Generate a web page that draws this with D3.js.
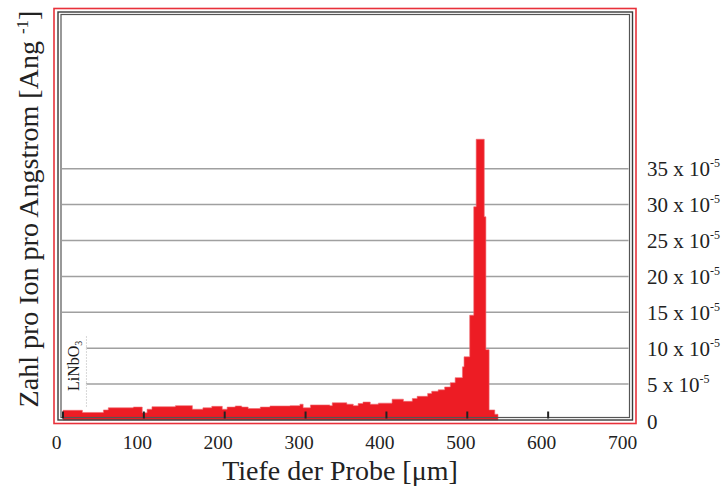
<!DOCTYPE html>
<html>
<head>
<meta charset="utf-8">
<script src="https://cdn.jsdelivr.net/npm/d3@7/dist/d3.min.js"></script>
<style>
  html, body { margin: 0; padding: 0; background: #fff; }
  svg { display: block; font-family: "Liberation Serif", "Times New Roman", serif; }
</style>
</head>
<body>
<svg id="chart" width="723" height="491"></svg>
<script>
// Histogram of implanted ions vs. depth in LiNbO3 (values in units of 1e-5 per Angstrom)
const depthEdges = [0,24,50,56,87,98,104,110,139,160,173,184,197,203,213,221,229,244,256,281,
  293,297,306,330,333,351,359,365,371,380,390,407,421,432,438,451,456,464,472,479,
  485,494,496,503,508,511,521,523,527,534,538];
const ionsPerAngstrom = [1.35,1.05,1.4,1.7,1.8,1.0,1.5,1.85,2.0,1.5,
  1.7,1.9,1.5,1.8,1.95,1.8,1.6,1.8,1.95,2.0,
  2.2,1.7,2.1,2.0,2.4,2.2,2.0,2.3,2.5,2.2,
  2.35,2.9,2.6,3.0,3.3,3.7,4.0,4.2,4.6,5.2,
  5.9,7.4,8.8,14.6,29.7,39.1,28.3,9.8,1.4,0.8];
const depthTicks = [0,100,200,300,400,500,600,700];
const countTicks = [0,5,10,15,20,25,30,35];
const layerBoundary = 29;

const svg = d3.select("#chart");
const x = d3.scaleLinear().domain([0, 700]).range([63, 629]);
const y = d3.scaleLinear().domain([0, 40]).range([420, 132.8]);

const plotL = 61, plotR = 629.5, plotT = 14.5, plotB = 417.5;

// gridlines
svg.append("g").selectAll("line")
  .data(countTicks.filter(d => d > 0))
  .join("line")
  .attr("x1", plotL + 1).attr("x2", plotR - 1)
  .attr("y1", d => y(d)).attr("y2", d => y(d))
  .attr("stroke", "#a0a0a0").attr("stroke-width", 1.5);

// white backing behind the layer label
svg.append("rect")
  .attr("x", plotL + 1).attr("y", 336)
  .attr("width", x(layerBoundary) - plotL - 1.5).attr("height", 72)
  .attr("fill", "#fff");
svg.append("line")
  .attr("x1", x(layerBoundary)).attr("x2", x(layerBoundary))
  .attr("y1", 336).attr("y2", 408)
  .attr("stroke", "#d8d8d8").attr("stroke-width", 1)
  .attr("stroke-dasharray", "2,1");

// histogram as a stepped area
const steps = depthEdges.map((e, i) => ({ d: e, v: i < ionsPerAngstrom.length ? ionsPerAngstrom[i] : 0 }));
const area = d3.area()
  .x(p => x(p.d))
  .y0(y(0))
  .y1(p => y(p.v))
  .curve(d3.curveStepAfter);
svg.append("path")
  .datum(steps)
  .attr("d", area)
  .attr("fill", "#ed1c24")
  .attr("stroke", "#f06a70").attr("stroke-width", 0.6);

// layer label
svg.append("text")
  .attr("transform", `translate(${x(layerBoundary) - 7.5},391) rotate(-90)`)
  .attr("font-size", 16).attr("fill", "#1a1a1a")
  .text("LiNbO")
  .append("tspan").attr("font-size", 10).attr("dy", 3).text("3");

// frame: double dark line and red outline
svg.append("rect").attr("x", 58).attr("y", 12).attr("width", 632.5 - 58).attr("height", 420 - 12)
  .attr("fill", "none").attr("stroke", "#3a3a3a").attr("stroke-width", 1.4);
svg.append("rect").attr("x", plotL).attr("y", plotT).attr("width", plotR - plotL).attr("height", plotB - plotT)
  .attr("fill", "none").attr("stroke", "#555").attr("stroke-width", 1.2);
svg.append("rect").attr("x", 54).attr("y", 8.5).attr("width", 636 - 54).attr("height", 423.5 - 8.5)
  .attr("fill", "none").attr("stroke", "#e8313a").attr("stroke-width", 1.6);

// x tick marks
svg.append("g").selectAll("line")
  .data(depthTicks.filter(d => d < 700))
  .join("line")
  .attr("x1", d => x(d)).attr("x2", d => x(d))
  .attr("y1", 411.5).attr("y2", 418.5)
  .attr("stroke", "#222").attr("stroke-width", 2);

// x tick labels
svg.append("g").selectAll("text")
  .data(depthTicks)
  .join("text")
  .attr("x", d => x(d) - 6.5).attr("y", 449)
  .attr("text-anchor", "middle").attr("font-size", 19.5).attr("fill", "#222")
  .text(d => d);

// right-hand value labels
const rl = svg.append("g").selectAll("text")
  .data(countTicks)
  .join("text")
  .attr("x", 647).attr("y", d => y(d) + 7.5)
  .attr("font-size", 21).attr("fill", "#222");
rl.filter(d => d === 0).attr("y", y(0) + 9).text("0");
rl.filter(d => d > 0).each(function(d) {
  const t = d3.select(this);
  t.append("tspan").text(`${d} x 10`);
  t.append("tspan").attr("font-size", 12).attr("dy", -9).text("-5");
});

// axis titles
svg.append("text")
  .attr("x", 340).attr("y", 480)
  .attr("text-anchor", "middle").attr("font-size", 28).attr("fill", "#222")
  .text("Tiefe der Probe [\u03bcm]");

const yt = svg.append("text")
  .attr("transform", "translate(38,209) rotate(-90)")
  .attr("text-anchor", "middle").attr("font-size", 28).attr("fill", "#222");
yt.append("tspan").text("Zahl pro Ion pro Angstrom [Ang ");
yt.append("tspan").attr("font-size", 17).attr("dy", -10).text("-1");
yt.append("tspan").attr("dy", 10).text("]");
</script>
</body>
</html>
